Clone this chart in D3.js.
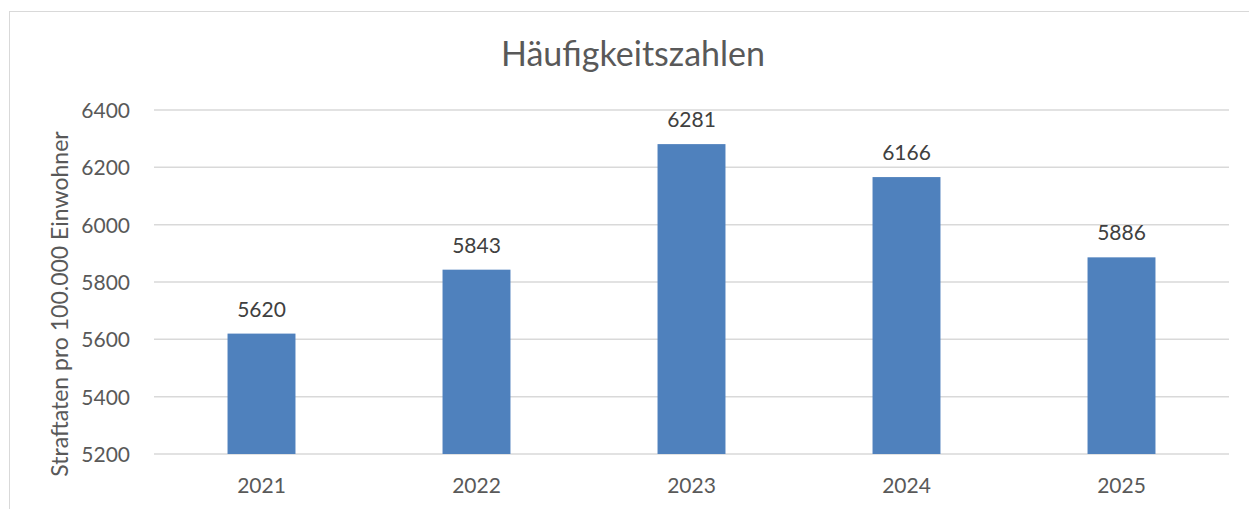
<!DOCTYPE html>
<html><head><meta charset="utf-8">
<script src="https://cdn.jsdelivr.net/npm/d3@7"></script>
<style>body{margin:0;background:#fff;}svg{display:block;}</style>
</head><body>
<script>
const categories = ["2021","2022","2023","2024","2025"];
const values = [5620, 5843, 6281, 6166, 5886];
const yTicks = [5200, 5400, 5600, 5800, 6000, 6200, 6400];
const title = "Häufigkeitszahlen";
const yTitle = "Straftaten pro 100.000 Einwohner";

const W = 1249, H = 509;
const font = "Lato, Calibri, Carlito, sans-serif";
const svg = d3.select("body").append("svg").attr("width", W).attr("height", H);

svg.append("rect").attr("x", 9.5).attr("y", 11.5).attr("width", W + 10).attr("height", H + 10)
  .attr("fill", "#fff").attr("stroke", "#d9d9d9").attr("stroke-width", 1);

const m = {left: 154, right: 1229, top: 110, bottom: 454};
const x = d3.scaleBand().domain(categories).range([m.left, m.right]).paddingInner(0.684).paddingOuter(0.342);
const y = d3.scaleLinear().domain([5200, 6400]).range([m.bottom, m.top]);

// gridlines
svg.append("g").selectAll("line").data(yTicks).join("line")
  .attr("x1", m.left).attr("x2", m.right)
  .attr("y1", d => y(d)).attr("y2", d => y(d))
  .attr("stroke", "#d9d9d9").attr("stroke-width", 1.5);

// y axis labels
const yAxis = d3.axisLeft(y).tickValues(yTicks).tickSize(0).tickPadding(0).tickFormat(d3.format("d"));
const gy = svg.append("g").attr("transform", `translate(130,0)`).call(yAxis);
gy.select(".domain").remove();
gy.selectAll("text").attr("font-family", font).attr("font-size", 21).attr("fill", "#595959").attr("dy", "0.36em");

// bars
svg.append("g").selectAll("rect").data(values).join("rect")
  .attr("x", (d, i) => x(categories[i]))
  .attr("width", x.bandwidth())
  .attr("y", d => y(d))
  .attr("height", d => y(5200) - y(d))
  .attr("fill", "#4f81bd");

// data labels
svg.append("g").selectAll("text").data(values).join("text")
  .attr("x", (d, i) => x(categories[i]) + x.bandwidth() / 2)
  .attr("y", d => y(d) - 17)
  .attr("text-anchor", "middle")
  .attr("font-family", font).attr("font-size", 21).attr("fill", "#404040")
  .text(d => d);

// x axis labels
const xAxis = d3.axisBottom(x).tickSize(0).tickPadding(0);
const gx = svg.append("g").attr("transform", `translate(0,${m.bottom})`).call(xAxis);
gx.select(".domain").remove();
gx.selectAll("text").attr("font-family", font).attr("font-size", 21).attr("fill", "#595959")
  .attr("dy", null).attr("y", 39);

// title
svg.append("text").attr("x", 633).attr("y", 66).attr("text-anchor", "middle")
  .attr("font-family", font).attr("font-size", 34).attr("fill", "#595959").text(title);

// y title
svg.append("text").attr("transform", "translate(68,304) rotate(-90)").attr("text-anchor", "middle")
  .attr("font-family", font).attr("font-size", 23).attr("fill", "#595959").text(yTitle);
</script>
</body></html>
